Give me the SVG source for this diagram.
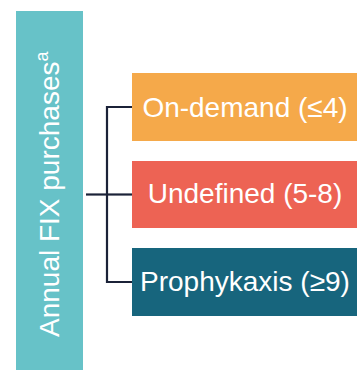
<svg xmlns="http://www.w3.org/2000/svg" width="357" height="370" viewBox="0 0 357 370">
<style>
text{font-family:"Liberation Sans",Arial,sans-serif;fill:#ffffff;font-size:28px}
.box text{text-anchor:middle}
.conn{stroke:#1b2238;stroke-width:2.2;fill:none}
</style>
<rect width="357" height="370" fill="#ffffff"/>
<g id="annual">
<rect x="16" y="11" width="67" height="359" fill="#67c2c8"/>
<text transform="translate(58.5,337) rotate(-90)">Annual FIX purchases<tspan font-size="18" dy="-11">a</tspan></text>
</g>
<g id="connectors" class="conn">
<path d="M86 194.5H107"/>
<path d="M132 107H107V282H132"/>
<path d="M107 194.5H132"/>
</g>
<g id="on-demand" class="box">
<rect x="132" y="73" width="226" height="68" fill="#f5a94a"/>
<text x="245" y="116.5">On-demand (≤4)</text>
</g>
<g id="undefined" class="box">
<rect x="132" y="161" width="226" height="67" fill="#ed6354"/>
<text x="245" y="202.5">Undefined (5-8)</text>
</g>
<g id="prophykaxis" class="box">
<rect x="132" y="248" width="226" height="68" fill="#17657d"/>
<text x="245" y="290.5">Prophykaxis (≥9)</text>
</g>
</svg>
